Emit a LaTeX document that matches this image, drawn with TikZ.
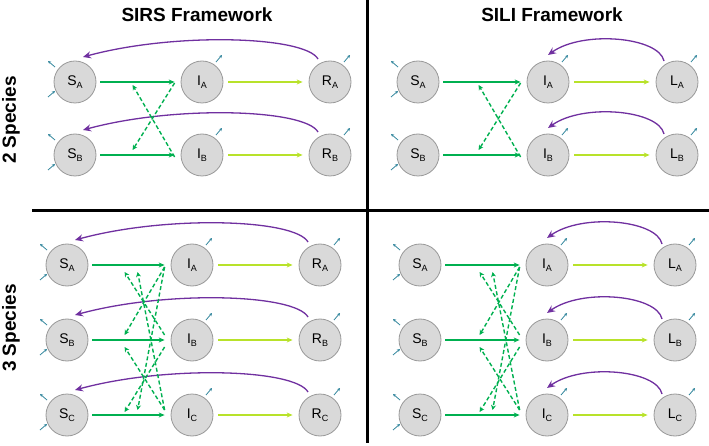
\documentclass[tikz,border=0pt]{standalone}
\usepackage{fontspec}
\setmainfont{Liberation Sans}
\usepackage{tikz}
\usetikzlibrary{arrows.meta, positioning, calc}
\usepackage{xcolor}
\definecolor{infgreen}{RGB}{0,176,80}
\definecolor{lossgreen}{RGB}{184,226,42}
\definecolor{wanepurple}{RGB}{112,48,160}
\definecolor{demoteal}{RGB}{49,133,156}

% compartment label with lowered species letter
\newcommand{\lbl}[2]{#1\raisebox{-0.45ex}{\fontsize{9}{9}\selectfont #2}}

\begin{document}
\begin{tikzpicture}[
    x=1pt, y=-1pt,
    >=Stealth,
    comp/.style={circle, draw=black!40, line width=0.8pt, fill=black!15, minimum size=42pt, inner sep=0, font=\fontsize{14}{14}\selectfont},
    infect/.style={-{Stealth[length=6pt, width=5pt]}, line width=1.5pt, infgreen, shorten <=4pt, shorten >=6pt},
    progress/.style={-{Stealth[length=6pt, width=5pt]}, line width=1.5pt, lossgreen, shorten <=5pt, shorten >=6pt},
    cross/.style={-{Stealth[length=5pt, width=5pt]}, line width=1.4pt, infgreen, dash pattern=on 4pt off 2.5pt},
    wane/.style={-{Stealth[length=8pt, width=7pt]}, line width=1.3pt, wanepurple},
    demo/.style={-{Stealth[length=3pt, width=3pt]}, line width=0.8pt, demoteal},
    divider/.style={line width=3pt, black},
    title/.style={font=\bfseries\fontsize{19}{19}\selectfont},
]
    \useasboundingbox (0,0) rectangle (709,446);

    % Dividers
    \draw[divider] (367,0) -- (367,443);
    \draw[divider] (32,211) -- (709,211);

    % Headings
    \node[title] (sirs) at (197,15) {SIRS Framework};
    \node[title] (sili) at (552,15) {SILI Framework};
    \node[title, rotate=90] (two) at (11,120) {2 Species};
    \node[title, rotate=90] (three) at (11,328) {3 Species};

    % SIRS, 2 species
    \node[comp] (tlSA) at (75,82) {\lbl{S}{A}};
    \node[comp] (tlIA) at (202,82) {\lbl{I}{A}};
    \node[comp] (tlRA) at (330,82) {\lbl{R}{A}};
    \node[comp] (tlSB) at (75,155) {\lbl{S}{B}};
    \node[comp] (tlIB) at (202,155) {\lbl{I}{B}};
    \node[comp] (tlRB) at (330,155) {\lbl{R}{B}};

    % SILI, 2 species
    \node[comp] (trSA) at (418,82) {\lbl{S}{A}};
    \node[comp] (trIA) at (548,82) {\lbl{I}{A}};
    \node[comp] (trLA) at (677,82) {\lbl{L}{A}};
    \node[comp] (trSB) at (418,155) {\lbl{S}{B}};
    \node[comp] (trIB) at (548,155) {\lbl{I}{B}};
    \node[comp] (trLB) at (677,155) {\lbl{L}{B}};

    % SIRS, 3 species
    \node[comp] (blSA) at (67,265) {\lbl{S}{A}};
    \node[comp] (blIA) at (192,265) {\lbl{I}{A}};
    \node[comp] (blRA) at (320,265) {\lbl{R}{A}};
    \node[comp] (blSB) at (67,340) {\lbl{S}{B}};
    \node[comp] (blIB) at (192,340) {\lbl{I}{B}};
    \node[comp] (blRB) at (320,340) {\lbl{R}{B}};
    \node[comp] (blSC) at (67,415) {\lbl{S}{C}};
    \node[comp] (blIC) at (192,415) {\lbl{I}{C}};
    \node[comp] (blRC) at (320,415) {\lbl{R}{C}};

    % SILI, 3 species
    \node[comp] (brSA) at (420,265) {\lbl{S}{A}};
    \node[comp] (brIA) at (547,265) {\lbl{I}{A}};
    \node[comp] (brLA) at (675,265) {\lbl{L}{A}};
    \node[comp] (brSB) at (420,340) {\lbl{S}{B}};
    \node[comp] (brIB) at (547,340) {\lbl{I}{B}};
    \node[comp] (brLB) at (675,340) {\lbl{L}{B}};
    \node[comp] (brSC) at (420,415) {\lbl{S}{C}};
    \node[comp] (brIC) at (547,415) {\lbl{I}{C}};
    \node[comp] (brLC) at (675,415) {\lbl{L}{C}};

    % Births and deaths
    \foreach \n in {tlSA,tlSB,trSA,trSB,blSA,blSB,blSC,brSA,brSB,brSC} {
        \draw[demo] ($(\n)+(-20,-15)$) -- ($(\n)+(-27,-21)$);
        \draw[demo] ($(\n)+(-27,15)$) -- ($(\n)+(-20,9)$);
    }
    \foreach \n in {tlIA,tlIB,tlRA,tlRB,trIA,trIB,trLA,trLB,blIA,blIB,blIC,blRA,blRB,blRC,brIA,brIB,brIC,brLA,brLB,brLC}
        \draw[demo] ($(\n)+(14,-20)$) -- ($(\n)+(20,-27)$);

    % Infection and recovery / latency
    \foreach \s/\i/\r in {tlSA/tlIA/tlRA, tlSB/tlIB/tlRB, trSA/trIA/trLA, trSB/trIB/trLB,
                          blSA/blIA/blRA, blSB/blIB/blRB, blSC/blIC/blRC,
                          brSA/brIA/brLA, brSB/brIB/brLB, brSC/brIC/brLC} {
        \draw[infect] (\s) -- (\i);
        \draw[progress] (\i) -- (\r);
    }

    % Loss of immunity (SIRS)
    \foreach \s/\r in {tlSA/tlRA, tlSB/tlRB, blSA/blRA, blSB/blRB, blSC/blRC}
        \draw[wane] ($(\r)+(-12,-23)$) .. controls ($(\r)+(-25,-46)$) and ($(\s)+(100,-50)$) .. ($(\s)+(8,-25)$);

    % Reactivation (SILI)
    \foreach \i/\l in {trIA/trLA, trIB/trLB, brIA/brLA, brIB/brLB, brIC/brLC}
        \draw[wane] ($(\l)+(-13,-21)$) .. controls ($(\l)+(-18,-45)$) and ($(\i)+(35,-52)$) .. ($(\i)+(0,-27)$);

    % Cross-species transmission, 2 species
    \foreach \p in {tl,tr} {
        \draw[cross] ($(\p IA.west)+(-6,1)$) -- ($(\p IB.west)+(-48,-5)$);
        \draw[cross] ($(\p IB.west)+(-6,2)$) -- ($(\p IA.west)+(-48,3)$);
    }

    % Cross-species transmission, 3 species
    \foreach \p in {bl,br} {
        \draw[cross] ($(\p IA.west)+(-6,2)$) -- ($(\p IB.west)+(-46,-5)$);
        \draw[cross] ($(\p IA.west)+(-6,2)$) -- ($(\p IC.west)+(-33,-5)$);
        \draw[cross] ($(\p IB.west)+(-6,-5)$) -- ($(\p IA.west)+(-46,7)$);
        \draw[cross] ($(\p IB.west)+(-6,7)$) -- ($(\p IC.west)+(-46,-3)$);
        \draw[cross] ($(\p IC.west)+(-6,-5)$) -- ($(\p IA.west)+(-33,7)$);
        \draw[cross] ($(\p IC.west)+(-6,-5)$) -- ($(\p IB.west)+(-46,7)$);
    }

\end{tikzpicture}
\end{document}
